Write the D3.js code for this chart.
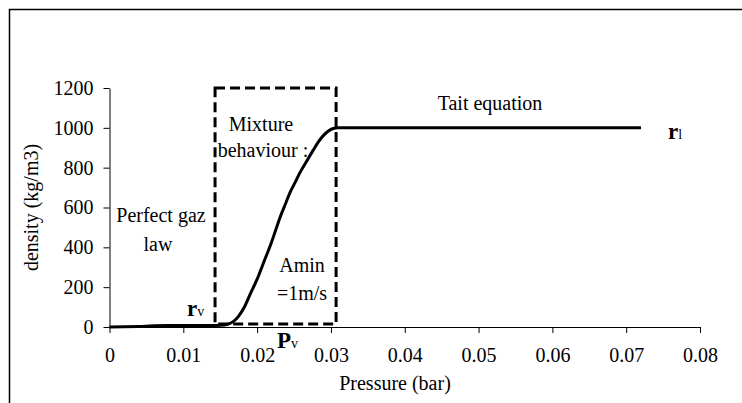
<!DOCTYPE html>
<html>
<head>
<meta charset="utf-8">
<script src="https://cdn.jsdelivr.net/npm/d3@7"></script>
<style>
  html, body { margin: 0; padding: 0; background: #fff; }
  svg { display: block; }
</style>
</head>
<body>
<svg id="chart" width="742" height="403"></svg>
<script>
// ---- data ----
const pressure = [0, 0.002, 0.004, 0.006, 0.008, 0.010, 0.012, 0.014, 0.0150, 0.0160, 0.0168, 0.0175, 0.0182, 0.0190, 0.0200, 0.0210, 0.0218, 0.0225, 0.0231, 0.0238, 0.0245, 0.0252, 0.0258, 0.0267, 0.0276, 0.0283, 0.0290, 0.0297, 0.0303, 0.0310, 0.0400, 0.0500, 0.0600, 0.0720];
const density  = [0, 1, 3, 6, 7, 7, 8, 8, 9, 14, 28, 55, 95, 160, 240, 335, 410, 485, 550, 615, 678, 730, 775, 832, 888, 930, 962, 985, 997, 1000, 1000, 1000, 1000, 1000];
const xTicks = [0, 0.01, 0.02, 0.03, 0.04, 0.05, 0.06, 0.07, 0.08];
const yTicks = [0, 200, 400, 600, 800, 1000, 1200];
const mixtureBoxX = [0.0143, 0.0307];
const mixtureBoxY = [15, 1200];

// ---- layout ----
const FONT = '"Liberation Serif", Tinos, "Times New Roman", "DejaVu Serif", serif';
const FS = 20;
const svg = d3.select("#chart");
const x = d3.scaleLinear().domain([0, 0.08]).range([109.5, 700]);
const y = d3.scaleLinear().domain([0, 1200]).range([327, 88]);

// outer frame
svg.append("rect").attr("x", 9.5).attr("y", 9.5).attr("width", 760).attr("height", 420)
  .attr("fill", "none").attr("stroke", "#000").attr("stroke-width", 1.5);

// axes
const xAxis = d3.axisBottom(x).tickValues(xTicks).tickSizeOuter(0).tickSizeInner(6).tickPadding(15)
  .tickFormat(d => d === 0 ? "0" : d3.format(".2f")(d));
const gx = svg.append("g").attr("transform", `translate(0,${y(0)})`).call(xAxis);
const yAxis = d3.axisLeft(y).tickValues(yTicks).tickSizeOuter(0).tickSizeInner(6).tickPadding(10)
  .tickFormat(d3.format("d"));
const gy = svg.append("g").attr("transform", `translate(${x(0)},0)`).call(yAxis);
[gx, gy].forEach(g => {
  g.attr("font-family", FONT).attr("font-size", FS);
  g.select(".domain").attr("stroke", "#000").attr("stroke-width", 1);
  g.selectAll(".tick line").attr("stroke", "#000");
  g.selectAll("text").attr("font-family", FONT).attr("font-size", FS).attr("fill", "#000");
});

function txt(tx, ty, str, anchor) {
  return svg.append("text").attr("x", tx).attr("y", ty).attr("text-anchor", anchor || "middle")
    .attr("font-family", FONT).attr("font-size", FS).attr("fill", "#000").text(str);
}

// axis titles
txt(395, 390, "Pressure (bar)");
txt(0, 0, "density (kg/m3)").attr("transform", `translate(38,${(y(0)+y(1200))/2}) rotate(-90)`);

// dashed mixture box
svg.append("rect")
  .attr("x", x(mixtureBoxX[0])).attr("y", y(mixtureBoxY[1]))
  .attr("width", x(mixtureBoxX[1]) - x(mixtureBoxX[0]))
  .attr("height", y(mixtureBoxY[0]) - y(mixtureBoxY[1]))
  .attr("fill", "none").attr("stroke", "#000").attr("stroke-width", 3)
  .attr("stroke-dasharray", "10,5");

// curve
const pts = pressure.map((p, i) => [p, density[i]]);
svg.append("path").datum(pts)
  .attr("fill", "none").attr("stroke", "#000").attr("stroke-width", 3)
  .attr("stroke-linejoin", "round")
  .attr("d", d3.line().x(d => x(d[0])).y(d => y(d[1])).curve(d3.curveMonotoneX));

// annotations
txt(490, 110, "Tait equation");
txt(261, 131, "Mixture");
txt(263, 157, "behaviour :");
txt(161, 222, "Perfect gaz");
txt(158, 251, "law");
txt(302, 272, "Amin");
txt(302, 300, "=1m/s");

function sym(tx, ty, main, sub) {
  const t = svg.append("text").attr("x", tx).attr("y", ty).attr("font-family", FONT)
    .attr("font-weight", "bold").attr("fill", "#000");
  t.append("tspan").attr("font-size", 23).text(main);
  t.append("tspan").attr("font-size", 14).attr("font-weight", "normal").text(sub);
}
sym(187, 316, "r", "v");
sym(668, 139, "r", "l");
sym(277, 348, "P", "v");
</script>
</body>
</html>
